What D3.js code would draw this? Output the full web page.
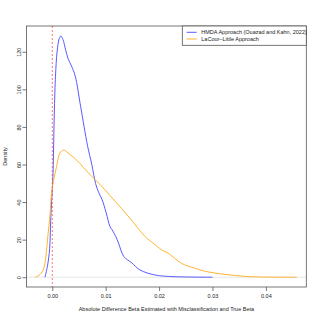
<!DOCTYPE html>
<html>
<head>
<meta charset="utf-8">
<script src="https://cdn.jsdelivr.net/npm/d3@7"></script>
<style>
body { margin: 0; background: #fff; }
text { font-family: "Liberation Sans", Arial, sans-serif; }
</style>
</head>
<body>
<svg id="chart"></svg>
<script>
// density curves
var hmdaX = [-0.00137, -0.0009, -0.0005, -0.0003, -0.0001, 0.0001, 0.0004, 0.0006, 0.0009, 0.0013, 0.0016, 0.0020, 0.0025, 0.0030, 0.0036, 0.0043, 0.0053, 0.0066, 0.0074, 0.0081, 0.0087, 0.0093, 0.0101, 0.0108, 0.0112, 0.0119, 0.0124, 0.0134, 0.0149, 0.0164, 0.0192, 0.0220, 0.0260, 0.0300];
var hmdaY = [0, 6, 15, 30, 42, 52, 90, 107, 120, 127, 128.4, 126.5, 121, 116, 112.4, 107, 91, 70, 60, 50, 45, 41.5, 34.2, 27, 25.2, 21.6, 18.2, 11, 7.6, 3.9, 1.2, 0.4, 0.1, 0];

var lacourX = [-0.0032, -0.0025, -0.0017, -0.0012, -0.0009, -0.0004, -0.0002, 0.0002, 0.0008, 0.0014, 0.0021, 0.0030, 0.0046, 0.0058, 0.0071, 0.0089, 0.0108, 0.0130, 0.0146, 0.0174, 0.0189, 0.0205, 0.0217, 0.0242, 0.0267, 0.0289, 0.0333, 0.0370, 0.0410, 0.0458];
var lacourY = [0, 1, 3.9, 11, 19.8, 34.2, 43, 51, 58.8, 66, 67.7, 66, 62.2, 58.5, 54.5, 49.5, 43.5, 36.5, 31.2, 21.6, 18.1, 14.5, 12.8, 7.4, 4.8, 3, 1.2, 0.3, 0.05, 0];

var xTicks = [0, 0.01, 0.02, 0.03, 0.04];
var yTicks = [0, 20, 40, 60, 80, 100, 120];
var legendLabels = ["HMDA Approach (Ouazad and Kahn, 2022)", "LaCour\u2013Little Approach"];
var xTitle = "Absolute Difference Beta Estimated with Misclassification and True Beta";
var yTitle = "Density";

var dims = {
	width: 320,
	height: 320,
	left: 26.5,
	right: 306.3,
	top: 26,
	bottom: 287,
	font: 5.5
};

var colors = { hmda: "#5a5aff", lacour: "#ffb52e", vline: "#ff3a3a", zero: "#e0e0e0", axis: "#555" };

var svg = d3.select("#chart").attr("width", dims.width).attr("height", dims.height);

var x = d3.scaleLinear().domain([-0.00483, 0.04757]).range([dims.left, dims.right]);
var y = d3.scaleLinear().domain([-5.2, 133.7]).range([dims.bottom, dims.top]);

// zero line of the density plot
svg.append("line")
	.attr("x1", dims.left).attr("x2", dims.right)
	.attr("y1", y(0)).attr("y2", y(0))
	.attr("stroke", colors.zero).attr("stroke-width", 0.8);

var line = d3.line()
	.x(d => x(d[0]))
	.y(d => y(d[1]))
	.curve(d3.curveCatmullRom);

svg.append("path")
	.datum(d3.zip(hmdaX, hmdaY))
	.attr("d", line)
	.attr("fill", "none")
	.attr("stroke", colors.hmda)
	.attr("stroke-width", 1);

svg.append("path")
	.datum(d3.zip(lacourX, lacourY))
	.attr("d", line)
	.attr("fill", "none")
	.attr("stroke", colors.lacour)
	.attr("stroke-width", 1);

// true beta marker
svg.append("line")
	.attr("x1", x(0)).attr("x2", x(0))
	.attr("y1", dims.top).attr("y2", dims.bottom)
	.attr("stroke", colors.vline)
	.attr("stroke-width", 0.7)
	.attr("stroke-dasharray", "2,2");

// axes
var xAxis = svg.append("g")
	.attr("transform", "translate(0," + dims.bottom + ")")
	.call(d3.axisBottom(x).tickValues(xTicks).tickSize(4).tickPadding(3).tickFormat(d3.format(".2f")));
xAxis.select(".domain").remove();

var yAxis = svg.append("g")
	.attr("transform", "translate(" + dims.left + ",0)")
	.call(d3.axisLeft(y).tickValues(yTicks).tickSize(4));
yAxis.select(".domain").remove();
yAxis.selectAll("text")
	.attr("x", null).attr("dy", null)
	.attr("text-anchor", "middle")
	.attr("transform", "translate(-6,0) rotate(-90)");

svg.selectAll(".tick line").attr("stroke", colors.axis).attr("stroke-width", 0.8);
svg.selectAll(".tick text")
	.attr("fill", "#222")
	.style("font-size", dims.font + "px")
	.style("font-family", "'Liberation Sans', Arial, sans-serif");

// box
svg.append("rect")
	.attr("x", dims.left).attr("y", dims.top)
	.attr("width", dims.right - dims.left)
	.attr("height", dims.bottom - dims.top)
	.attr("fill", "none")
	.attr("stroke", colors.axis)
	.attr("stroke-width", 0.8);

svg.append("text")
	.attr("x", (dims.left + dims.right) / 2)
	.attr("y", 311)
	.attr("text-anchor", "middle")
	.attr("fill", "#222")
	.style("font-size", dims.font + "px")
	.text(xTitle);

svg.append("text")
	.attr("transform", "translate(7," + ((dims.top + dims.bottom) / 2) + ") rotate(-90)")
	.attr("text-anchor", "middle")
	.attr("fill", "#222")
	.style("font-size", dims.font + "px")
	.text(yTitle);

// legend
var legend = svg.append("g").attr("transform", "translate(182.3," + dims.top + ")");
legend.append("rect")
	.attr("width", dims.right - 182.3)
	.attr("height", 19.3)
	.attr("fill", "white")
	.attr("stroke", colors.axis)
	.attr("stroke-width", 0.8);

var legendColors = [colors.hmda, colors.lacour];
legendLabels.forEach(function(l, i) {
	var yy = 6.3 + i * 6.7;
	legend.append("line")
		.attr("x1", 4.4).attr("x2", 14.4)
		.attr("y1", yy).attr("y2", yy)
		.attr("stroke", legendColors[i])
		.attr("stroke-width", 1);
	legend.append("text")
		.attr("x", 19)
		.attr("y", yy)
		.attr("dy", "0.35em")
		.attr("fill", "#222")
		.style("font-size", dims.font + "px")
		.text(l);
});
</script>
</body>
</html>
